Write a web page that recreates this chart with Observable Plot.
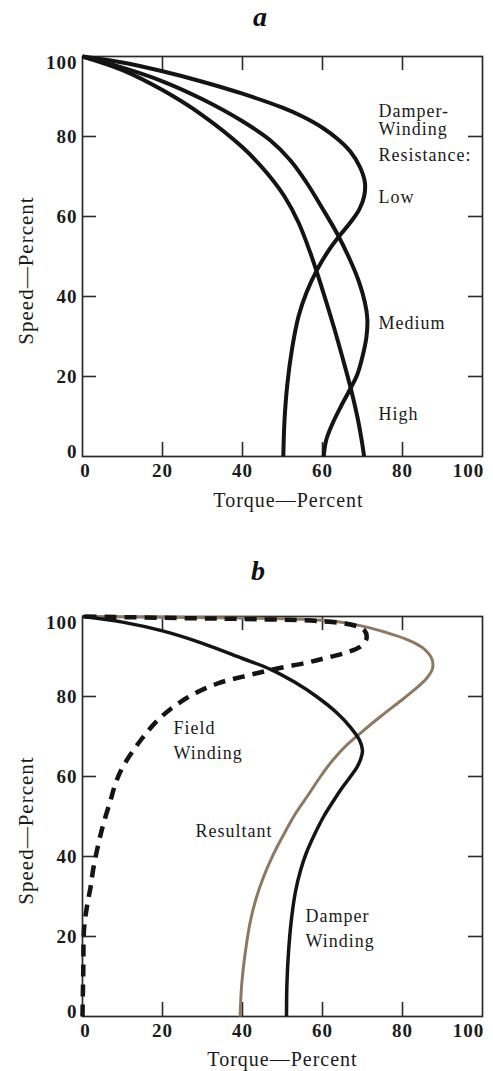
<!DOCTYPE html>
<html><head><meta charset="utf-8">
<script src="https://cdn.jsdelivr.net/npm/d3@7"></script>
<script src="https://cdn.jsdelivr.net/npm/@observablehq/plot@0.6"></script>
<style>
body{margin:0;background:#fff;}
#chart{width:493px;}
#chart svg{display:block;}
</style></head><body><div id="chart"></div>
<script>
// ---- data (torque %, speed %) ----
const midTicks = [20, 40, 60, 80];
const lowTick = [0];
const highTick = [100];

const lowCurve = [[0,100],[10,98.5],[20,96.3],[30,93.7],[40,90.7],[50,87.2],[55,85],[60,82.2],[64,79.2],[67,76.2],[69.3,72.5],[70.6,68.5],[70.4,65],[69.2,61.8],[67.2,58.8],[64.6,55.6],[61.6,51.6],[58.6,46.6],[56,41],[54,35],[52.4,27],[51.2,18],[50.5,9],[50.2,0]];
const mediumCurve = [[0,100],[10,97.2],[20,93.8],[30,89.3],[40,83.8],[47,79],[52,74],[56,68.5],[60,62],[63.5,56],[66.5,50],[69,44],[70.6,38.5],[71.2,34.5],[71,30],[70,25],[68.7,20.5],[67,17],[64.6,12.5],[62.4,8],[60.9,4],[60.3,0]];
const highCurve = [[0,100],[10,96.6],[20,91.6],[30,85.3],[40,77.3],[46,71],[50.5,65],[54,58.5],[57,50.8],[59.8,42.3],[62.8,32.5],[65.2,24],[67.2,16.5],[68.8,9.5],[69.8,4],[70.4,0]];

const damperCurve = [[0,100],[10,98.6],[20,96.4],[30,93.3],[40,89.5],[47,86.8],[53,83.6],[58.5,80],[63.5,76],[67,72.3],[69.3,69],[70,66.5],[69.6,64.5],[68.6,62.3],[67,60],[65,57.3],[62.8,54],[60.3,50],[58,45.5],[56,41],[54.5,36.5],[53.2,31],[52.2,24],[51.5,16],[51.1,8],[51,0]];
const resultantCurve = [[0,100],[20,99.8],[40,99.6],[55,99.3],[63,98.8],[70,97.6],[76,96],[81,94.3],[85,92.2],[87.3,89.5],[87.5,87],[86,84.5],[83,81.7],[79,78.5],[74.5,75],[70,71.3],[66,67.8],[62.5,64],[59.5,60],[56.5,55.5],[53.3,50.8],[50.3,45.5],[47.6,40.3],[45.3,35],[43.4,29.5],[41.9,23.5],[40.7,16],[39.8,8],[39.4,0]];
const fieldCurve = [[0,0],[0.2,12],[0.4,22],[1.2,28],[2,32.25],[2.75,37.25],[4,43.25],[5.25,48.25],[7,54],[8.25,58.25],[10,62.25],[14.5,69],[19.5,74.75],[26.25,79.75],[33.75,83.25],[41.25,85.25],[48.75,87],[56.25,88.5],[61.25,89.75],[66,91],[69.5,92.5],[71,94.5],[70.5,96.5],[68,97.75],[60,98.8],[45,99.3],[25,99.6],[0,100]];

const labelsA = [
  {text: "Damper-", x: 74, y: 86.3},
  {text: "Winding", x: 74, y: 81.75},
  {text: "Resistance:", x: 74, y: 75.3},
  {text: "Low", x: 74, y: 64.8},
  {text: "Medium", x: 74, y: 33.4},
  {text: "High", x: 74, y: 10.5}
];
const labelsB = [
  {text: "Field", x: 22.75, y: 72},
  {text: "Winding", x: 22.75, y: 65.75},
  {text: "Resultant", x: 28.25, y: 46.3},
  {text: "Damper", x: 55.75, y: 25.1},
  {text: "Winding", x: 55.75, y: 18.8}
];

const ink = "#141414";
const frameInk = "#2a2a2a";
const PW = 400, PH = 400, TL = 14;

function panel({title, lines, labels, marginTop, marginBottom, titleDx, titleDy, xTitleDx, xTitleDy, yTitleDy}) {
  const tickStyle = {stroke: frameInk, strokeWidth: 1.6};
  const axisText = {tickSize: 0, label: null, fontSize: 19, fontWeight: "bold", fill: "#1a1a1a"};
  return Plot.plot({
    width: 493,
    height: marginTop + PH + marginBottom,
    marginLeft: 82, marginRight: 11, marginTop, marginBottom,
    style: {fontFamily: "'Liberation Serif', serif", letterSpacing: "1px", background: "white", overflow: "visible"},
    x: {domain: [0, 100]},
    y: {domain: [0, 100]},
    marks: [
      Plot.frame({stroke: frameInk, strokeWidth: 1.7}),
      Plot.tickX(midTicks, {x: d => d, insetTop: PH - TL, ...tickStyle}),
      Plot.tickX(midTicks, {x: d => d, insetBottom: PH - TL, ...tickStyle}),
      Plot.tickY(midTicks, {y: d => d, insetRight: PW - TL, ...tickStyle}),
      Plot.tickY(midTicks, {y: d => d, insetLeft: PW - TL, ...tickStyle}),
      Plot.axisX(midTicks, {anchor: "bottom", tickPadding: 7, ...axisText}),
      Plot.axisX(lowTick, {anchor: "bottom", tickPadding: 7, dx: 3, ...axisText}),
      Plot.axisX(highTick, {anchor: "bottom", tickPadding: 7, dx: -14, ...axisText}),
      Plot.axisY(midTicks, {anchor: "left", tickPadding: 5, ...axisText}),
      Plot.axisY(lowTick, {anchor: "left", tickPadding: 5, dy: -5, ...axisText}),
      Plot.axisY(highTick, {anchor: "left", tickPadding: 5, dy: 6, ...axisText}),
      ...lines.map(l => Plot.line(l.data, {x: d => d[0], y: d => d[1], curve: "catmull-rom", stroke: l.stroke, strokeWidth: l.width, strokeDasharray: l.dash, strokeLinecap: "butt", strokeLinejoin: "round"})),
      Plot.text(labels, {x: "x", y: "y", text: "text", textAnchor: "start", lineAnchor: "middle", fontSize: 18, fill: "#1a1a1a"}),
      Plot.text([title], {frameAnchor: "top", lineAnchor: "middle", textAnchor: "middle", dx: titleDx, dy: titleDy, fontSize: 28, fontWeight: "bold", fontStyle: "italic", fill: "#111"}),
      Plot.text(["Torque—Percent"], {frameAnchor: "bottom", lineAnchor: "middle", textAnchor: "middle", dx: xTitleDx, dy: xTitleDy, fontSize: 20, fill: "#1a1a1a"}),
      Plot.text(["Speed—Percent"], {frameAnchor: "left", lineAnchor: "middle", textAnchor: "middle", rotate: -90, dx: -56, dy: yTitleDy, fontSize: 21, fill: "#1a1a1a"})
    ]
  });
}

const chart = document.getElementById("chart");
chart.append(panel({
  title: "a",
  lines: [
    {data: lowCurve, stroke: ink, width: 4},
    {data: mediumCurve, stroke: ink, width: 4},
    {data: highCurve, stroke: ink, width: 4}
  ],
  labels: labelsA,
  marginTop: 56, marginBottom: 74,
  titleDx: -22, titleDy: -39, xTitleDx: 6, xTitleDy: 43.6, yTitleDy: 14
}));
chart.append(panel({
  title: "b",
  lines: [
    {data: resultantCurve, stroke: "#8d7862", width: 3},
    {data: damperCurve, stroke: ink, width: 3.5},
    {data: fieldCurve, stroke: ink, width: 4.5, dash: "12,8"}
  ],
  labels: labelsB,
  marginTop: 86, marginBottom: 55,
  titleDx: -24, titleDy: -45, xTitleDx: 0, xTitleDy: 42.6, yTitleDy: 14
}));
</script></body></html>
